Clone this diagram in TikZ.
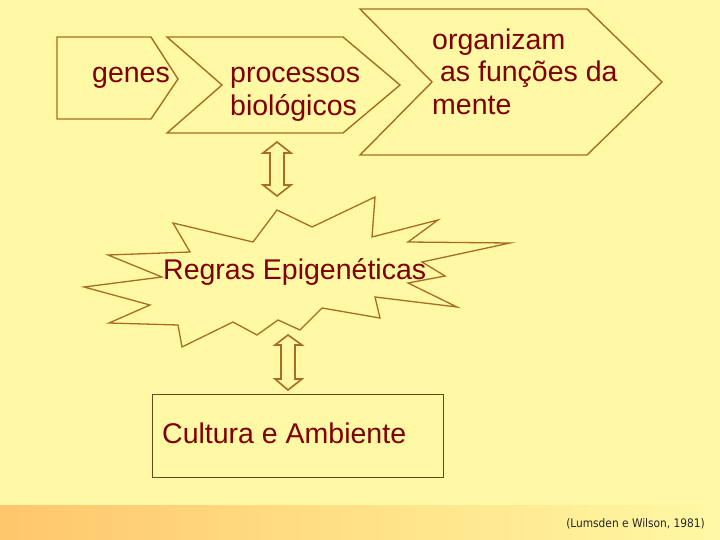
\documentclass[tikz,border=0pt]{standalone}
\usepackage{fontspec}
\setmainfont{Liberation Sans}
\newfontfamily\citefont{DejaVu Sans Condensed}
\definecolor{bgY}{RGB}{255,248,164}
\definecolor{bandO}{RGB}{255,198,108}
\definecolor{outl}{RGB}{168,108,38}
\definecolor{txt}{RGB}{128,0,0}
\definecolor{boxl}{RGB}{110,70,20}
\tikzset{
  shapeline/.style={draw=outl, line width=1.4pt, line join=miter, fill=bgY},
  lbl/.style={text=txt, font=\fontsize{28.5}{32}\selectfont, inner sep=0pt, anchor=base west, align=left},
  blockarrow/.style={draw=outl, line width=1.6pt, fill=bgY, line join=miter}
}
\begin{document}
\begin{tikzpicture}[x=1pt,y=-1pt]
\useasboundingbox (0,0) rectangle (720,540);
\fill[bgY] (0,0) rectangle (720,540);
\shade[left color=bandO, right color=bgY, middle color={rgb,255:red,255;green,225;blue,135}] (0,505) rectangle (720,540);

% chevrons
\draw[shapeline] (360,9) -- (587,9) -- (662,82) -- (587,155) -- (360,155) -- (432,82) -- cycle;
\draw[shapeline] (167,37) -- (343,37) -- (400,85) -- (343,133) -- (167,133) -- (222,85) -- cycle;
\draw[shapeline] (57,37) -- (151,37) -- (178,79) -- (151,119) -- (57,119) -- cycle;

\node[lbl] (genes) at (92,83) {genes};
\node[lbl] (proc) at (230,83) {processos};
\node[lbl] (bio) at (230,116) {biológicos};
\node[lbl] (org1) at (432,50) {organizam};
\node[lbl] (org2) at (432,82) {\ as funções da};
\node[lbl] (org3) at (432,115) {mente};

% starburst
\draw[draw=outl, line width=1.3pt, line join=miter, fill=bgY]
 (173,223) -- (253,242) -- (277,210) -- (312,227) -- (375,197) -- (372,237) -- (438,220)
 -- (408,242) -- (510,243) -- (422,262) -- (445,276) -- (408,283) -- (457,307) -- (375,297)
 -- (380,318) -- (322,308) -- (300,330) -- (278,320) -- (257,335) -- (233,322) -- (182,347)
 -- (178,325) -- (109,323) -- (150,305) -- (84,287) -- (162,277) -- (108,255) -- (190,252) -- cycle;
\node[lbl] (regras) at (163,279) {Regras Epigenéticas};

% block double arrows
\draw[blockarrow] (277,142) -- (291,153) -- (284,153) -- (284,185) -- (291,185) -- (277,196)
 -- (263,185) -- (270,185) -- (270,153) -- (263,153) -- cycle;
\draw[blockarrow] (288,335) -- (302,345) -- (295,345) -- (295,379) -- (302,379) -- (288,390)
 -- (275,379) -- (281,379) -- (281,345) -- (275,345) -- cycle;

% box
\draw[draw=boxl, line width=0.9pt] (152,394) rectangle (443,477);
\node[lbl] (cult) at (162,443) {Cultura e Ambiente};

\node[anchor=base east, inner sep=0pt, font=\citefont\fontsize{11.8}{13}\selectfont, text=black!85] (cite) at (705,527) {(Lumsden e Wilson, 1981)};
\end{tikzpicture}
\end{document}
